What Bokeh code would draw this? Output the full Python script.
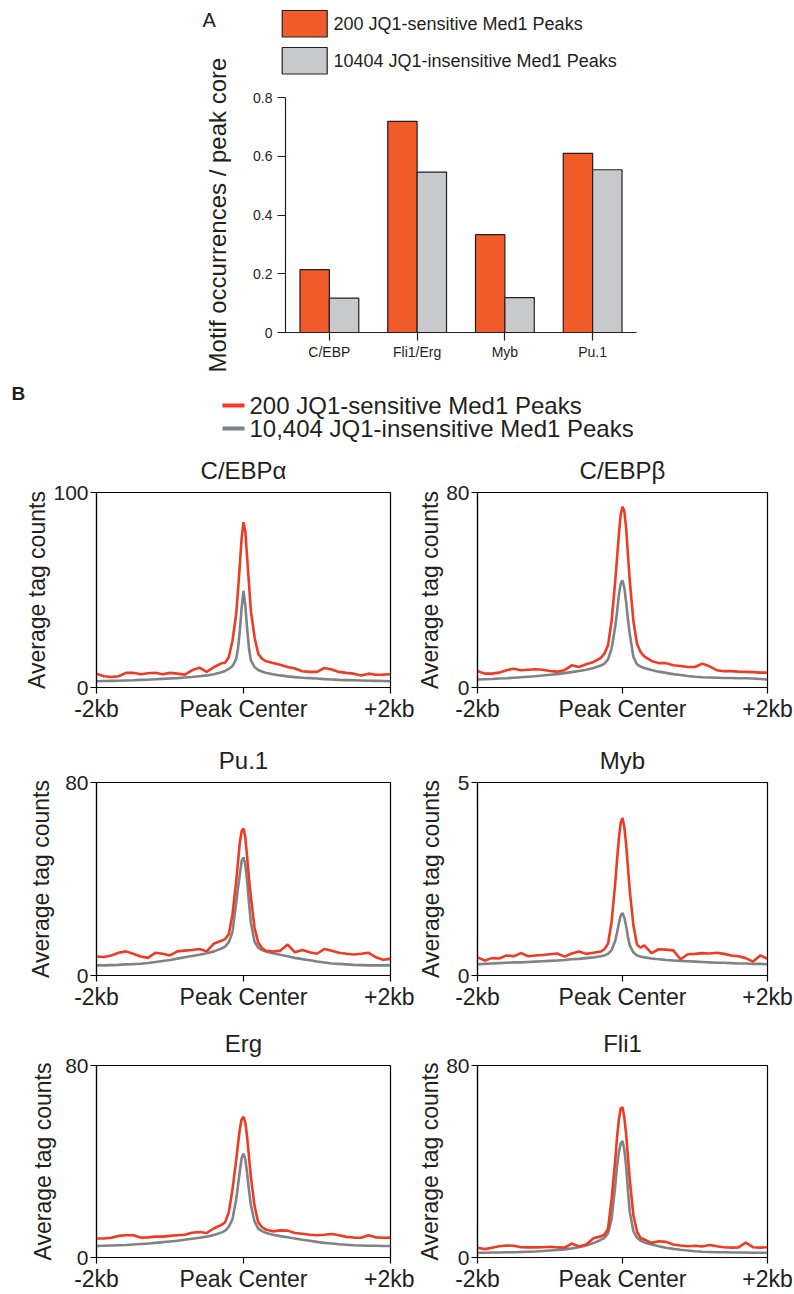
import math
from bokeh.plotting import figure
from bokeh.models import Range1d, FixedTicker, ColumnDataSource
from bokeh.layouts import column, row
from bokeh.embed import file_html
from bokeh.resources import INLINE
from bokeh.core.properties import value

FONT = "Liberation Sans"
ORANGE_BAR = "#F15A29"
GRAY_BAR = "#C8C9CD"
RED = "#EF3B23"
GRAY_LINE = "#808285"
INK = "#231F20"

# ---------------- Panel A data ----------------
motifs = ["C/EBP", "Fli1/Erg", "Myb", "Pu.1"]
sensitive_occ = [0.214, 0.719, 0.333, 0.610]
insensitive_occ = [0.117, 0.546, 0.119, 0.554]
bar_legend = ["200 JQ1-sensitive Med1 Peaks", "10404 JQ1-insensitive Med1 Peaks"]
a_ticks = [0, 0.2, 0.4, 0.6, 0.8]
a_ylabel = "Motif occurrences / peak core"

# ---------------- Panel B data ----------------
line_legend = ["200 JQ1-sensitive Med1 Peaks", "10,404 JQ1-insensitive Med1 Peaks"]
positions = [-2000, -1900, -1800, -1700, -1600, -1500, -1400, -1300, -1200, -1100,
             -1000, -900, -800, -700, -600, -500, -400, -300, -250, -200, -150,
             -100, -75, -50, -25, 0, 25, 50, 75, 100, 150, 200, 250, 300, 400, 500,
             600, 700, 800, 900, 1000, 1100, 1200, 1300, 1400, 1500, 1600, 1700,
             1800, 1900, 2000]
x_tick_labels = {-2000: "-2kb", 0: "Peak Center", 2000: "+2kb"}

cebpa_sens = [7.1, 5.8, 5.4, 5.8, 7.5, 7.6, 6.8, 7.3, 7.6, 6.8, 7.5, 7.1, 6.6, 8.8, 10.2, 8.0, 10.5, 12.4,
              12.7, 15.6, 24, 37.7, 49.6, 63, 76.7,
              84.8,
              80, 66.5, 53, 39.4, 25.8, 17.3, 14.8, 13.6,
              12.6, 11.7, 10.5, 9.7, 8.3, 8.0, 8.0, 10.0, 9.2, 8.0, 7.5, 7.1, 6.1, 7.1, 6.5, 6.6, 6.8]
cebpa_insens = [3.2, 3.3, 3.4, 3.5, 3.6, 3.7, 3.9, 4.0, 4.2, 4.4, 4.6, 4.8, 5.1, 5.4, 5.8, 6.2, 6.8, 7.8,
                8.5, 9.5, 11.0, 14.5, 20, 29, 41,
                49.5,
                42, 30, 20, 14, 10.5, 9.0, 8.2, 7.6,
                6.8, 6.2, 5.7, 5.3, 5.0, 4.8, 4.6, 4.3, 4.1, 3.9, 3.8, 3.7, 3.6, 3.5, 3.4, 3.3, 3.2]
cebpb_sens = [6.8, 5.7, 5.7, 6.1, 7.1, 7.7, 7.1, 7.3, 7.5, 7.3, 6.8, 6.5, 7.1, 9.1, 8.4, 9.5, 10.5, 12.1,
              13.9, 17.3, 27.4, 43.8, 53.3, 62.8, 70.9,
              74.2,
              72.3, 65.5, 54.6, 43.8, 27.4, 17.9, 14.5, 12.8,
              10.9, 10.0, 10.0, 9.1, 8.8, 8.4, 8.4, 9.8, 8.7, 7.1, 6.7, 6.7, 6.5, 6.4, 6.3, 6.1, 6.1]
cebpb_insens = [3.3, 3.4, 3.5, 3.7, 3.8, 4.0, 4.2, 4.4, 4.6, 4.9, 5.2, 5.5, 5.9, 6.3, 6.8, 7.3, 8.0, 9.0,
                9.8, 11.5, 16, 25, 31, 38, 42.5,
                44,
                41, 35, 28, 22, 12.5, 9.5, 8.6, 8.0,
                7.2, 6.5, 6.0, 5.5, 5.1, 4.7, 4.4, 4.2, 4.1, 4.0, 3.9, 3.9, 3.8, 3.8, 3.7, 3.5, 3.3]
pu1_sens = [7.9, 7.7, 8.3, 9.4, 10.0, 9.0, 7.9, 7.3, 9.4, 9.0, 8.3, 10.0, 10.3, 10.6, 11.0, 10.0, 13.3, 14.4,
            15.1, 17.1, 25.3, 38.9, 47, 55.2, 59.9,
            60.9,
            57.2, 49, 40.2, 32.7, 19.8, 13.7, 11.4, 10.3,
            9.9, 10.3, 12.8, 9.6, 10.6, 9.6, 9.0, 11.0, 10.3, 9.4, 9.0, 8.7, 9.0, 9.4, 7.6, 6.5, 6.9]
pu1_insens = [4.2, 4.2, 4.3, 4.4, 4.6, 4.7, 4.9, 5.2, 5.6, 6.0, 6.4, 7.0, 7.6, 8.1, 8.6, 9.2, 10.0, 11.2,
              12.0, 13.8, 18, 30, 36, 42, 47.5,
              49,
              46, 39, 30, 22, 14, 11.5, 10.6, 10.0,
              9.2, 8.6, 8.0, 7.3, 6.8, 6.3, 5.8, 5.4, 5.0, 4.8, 4.6, 4.4, 4.3, 4.2, 4.2, 4.2, 4.2]
myb_sens = [0.47, 0.39, 0.45, 0.44, 0.52, 0.50, 0.58, 0.50, 0.52, 0.53, 0.55, 0.57, 0.49, 0.57, 0.62, 0.56, 0.59, 0.62,
            0.68, 0.82, 1.4, 2.4, 3.0, 3.55, 3.95,
            4.08,
            3.85, 3.4, 2.8, 2.2, 1.3, 0.8, 0.72, 0.78,
            0.58, 0.68, 0.67, 0.65, 0.42, 0.55, 0.56, 0.58, 0.57, 0.59, 0.56, 0.52, 0.50, 0.45, 0.36, 0.52, 0.43]
myb_insens = [0.29, 0.30, 0.31, 0.32, 0.33, 0.34, 0.34, 0.35, 0.36, 0.37, 0.38, 0.39, 0.40, 0.42, 0.43, 0.45, 0.47, 0.50,
              0.52, 0.56, 0.66, 0.9, 1.12, 1.35, 1.55,
              1.62,
              1.5, 1.28, 1.0, 0.78, 0.6, 0.52, 0.49, 0.47,
              0.44, 0.42, 0.40, 0.39, 0.38, 0.37, 0.36, 0.35, 0.34, 0.33, 0.33, 0.32, 0.31, 0.31, 0.30, 0.30, 0.29]
erg_sens = [7.9, 7.9, 8.2, 9.0, 9.3, 9.3, 8.3, 8.4, 8.7, 8.7, 9.0, 9.3, 9.5, 10.3, 10.6, 10.2, 12.2, 13.6,
            14.7, 18.8, 28.3, 40.5, 47.3, 53.5, 57.6,
            58.6,
            56.2, 50, 41.9, 33.7, 21.5, 14.7, 12.7, 11.7,
            10.9, 11.3, 11.2, 10.2, 9.9, 9.5, 9.3, 9.5, 9.8, 9.3, 8.6, 8.3, 8.2, 9.3, 8.4, 8.2, 8.3]
erg_insens = [4.8, 4.9, 5.0, 5.1, 5.2, 5.4, 5.6, 5.8, 6.1, 6.4, 6.7, 7.0, 7.4, 7.8, 8.2, 8.7, 9.4, 10.4,
              11.2, 12.8, 16, 24, 30, 36, 41.5,
              43.3,
              41, 35, 28, 22, 15, 12, 11, 10.3,
              9.5, 8.9, 8.4, 7.9, 7.4, 7.0, 6.5, 6.1, 5.8, 5.5, 5.3, 5.1, 5.0, 4.9, 4.9, 4.8, 4.8]
fli1_sens = [4.1, 3.5, 4.1, 4.7, 5.0, 4.9, 4.3, 4.2, 4.2, 4.3, 4.5, 4.2, 4.1, 5.8, 4.6, 5.4, 8.0, 8.8,
             9.5, 11.9, 24.4, 40.7, 50.2, 57.6, 62.1,
             62.6,
             58.3, 51.5, 42, 32.5, 17.6, 10.8, 8.1, 7.5,
             6.1, 6.8, 6.5, 5.4, 5.0, 4.7, 4.9, 4.6, 5.2, 4.7, 4.3, 4.1, 4.2, 6.2, 4.3, 4.1, 4.3]
fli1_insens = [2.0, 2.0, 2.1, 2.1, 2.2, 2.2, 2.3, 2.4, 2.5, 2.7, 2.9, 3.1, 3.4, 3.8, 4.3, 5.0, 6.0, 7.3,
               8.2, 10, 16, 30, 38, 44, 47.5,
               48.5,
               45, 38, 28, 19, 11, 8.2, 7.0, 6.3,
               5.4, 4.7, 4.1, 3.6, 3.2, 2.9, 2.6, 2.4, 2.3, 2.2, 2.2, 2.1, 2.1, 2.1, 2.0, 2.0, 2.0]

panel_titles = ["C/EBP\u03b1", "C/EBP\u03b2", "Pu.1", "Myb", "Erg", "Fli1"]
panel_ymax = [100, 80, 80, 5, 80, 80]
panel_sens = [cebpa_sens, cebpb_sens, pu1_sens, myb_sens, erg_sens, fli1_sens]
panel_insens = [cebpa_insens, cebpb_insens, pu1_insens, myb_insens, erg_insens, fli1_insens]


def blank(width, height, x0, x1, y_top, y_bottom):
    """Axis-less figure whose data units are page pixels."""
    f = figure(width=width, height=height, x_range=Range1d(x0, x1), y_range=Range1d(y_bottom, y_top),
               min_border=0, x_axis_location=None, y_axis_location=None,
               output_backend="svg", toolbar_location=None, outline_line_color=None,
               frame_align=False)
    f.xgrid.visible = False
    f.ygrid.visible = False
    return f


# ---------------- Top: label column ----------------
pl = blank(250, 380, 0, 250, 0, 380)
pl.text(x=[202], y=[19], text=["A"], text_font=value(FONT), text_font_size="20px",
        text_baseline="middle", text_align="left", text_color=INK)
pl.text(x=[217], y=[214.5], text=[a_ylabel], angle=math.pi / 2, text_font=value(FONT),
        text_font_size="24px", text_baseline="middle", text_align="center", text_color=INK)

# ---------------- Top: legend A ----------------
ph = blank(544, 85, 250, 794, 0, 85)
ph.quad(left=[281.7, 281.7], right=[326.7, 326.7], top=[10, 47], bottom=[36.5, 73.5],
        fill_color=[ORANGE_BAR, GRAY_BAR], line_color=INK, line_width=1.2)
ph.text(x=[333, 333], y=[23.5, 60.5], text=bar_legend, text_font=value(FONT),
        text_font_size="18px", text_baseline="middle", text_align="left", text_color=INK)

# ---------------- Top: bar chart ----------------
BAR_W = 0.335
centers = [i + 0.5 for i in range(len(motifs))]
src = ColumnDataSource(dict(
    xs=[c - BAR_W / 2 for c in centers], xi=[c + BAR_W / 2 for c in centers],
    sens=sensitive_occ, insens=insensitive_occ))
pa = figure(width=544, height=295, x_range=Range1d(0, len(motifs)), y_range=Range1d(0, 0.8),
            min_border_left=35, min_border_right=158, min_border_top=12, min_border_bottom=48,
            output_backend="svg", toolbar_location=None, outline_line_color=None,
            frame_align=False)
pa.vbar(x="xs", top="sens", width=BAR_W, source=src,
        fill_color=ORANGE_BAR, line_color=INK, line_width=1.2)
pa.vbar(x="xi", top="insens", width=BAR_W, source=src,
        fill_color=GRAY_BAR, line_color=INK, line_width=1.2)
pa.xgrid.visible = False
pa.ygrid.visible = False
pa.xaxis.ticker = FixedTicker(ticks=centers)
pa.xaxis.major_label_overrides = {c: m for c, m in zip(centers, motifs)}
pa.yaxis.ticker = FixedTicker(ticks=a_ticks)
pa.yaxis.major_label_overrides = {0: "0"}
for ax in (pa.xaxis[0], pa.yaxis[0]):
    ax.major_tick_out = 8
    ax.major_tick_in = 0
    ax.minor_tick_line_color = None
    ax.major_label_text_font_size = "14px"
    ax.major_label_text_font = FONT
    ax.major_label_text_color = INK
    ax.axis_line_color = INK
    ax.major_tick_line_color = INK
    ax.axis_line_width = 1.2
    ax.major_tick_line_width = 1.2
pa.xaxis.major_label_standoff = 3
pa.yaxis.major_label_standoff = 5

top = row(pl, column(ph, pa, spacing=0), spacing=0)

# ---------------- Header B ----------------
pb = blank(794, 65, 0, 794, 380, 445)
pb.text(x=[11], y=[393], text=["B"], text_font=value(FONT), text_font_style="bold",
        text_font_size="19px", text_baseline="middle", text_color=INK)
pb.segment(x0=[222, 222], y0=[405, 428], x1=[244, 244], y1=[405, 428],
           line_color=[RED, GRAY_LINE], line_width=4)
pb.text(x=[249, 249], y=[405, 428], text=line_legend, text_font=value(FONT),
        text_font_size="24px", text_baseline="middle", text_color=INK)

# ---------------- Profile panels ----------------
row_specs = [(290, 46, 48), (283, 44, 43), (276, 45, 35)]
label_standoffs = [0, 0, 8, 11, 6, 0]


def profile(i, rowi, left):
    h, bt, bb = row_specs[rowi]
    w = 414 if left else 380
    bl = 96 if left else 58
    br = 24 if left else 27
    p = figure(width=w, height=h, x_range=Range1d(-2000, 2000), y_range=Range1d(0, panel_ymax[i]),
               min_border_left=bl, min_border_right=br, min_border_top=bt, min_border_bottom=bb,
               output_backend="svg", toolbar_location=None, frame_align=False,
               outline_line_color="black", outline_line_width=1.2, outline_line_alpha=1.0)
    p.xgrid.visible = False
    p.ygrid.visible = False
    p.line(positions, panel_insens[i], line_color=GRAY_LINE, line_width=2.6)
    p.line(positions, panel_sens[i], line_color=RED, line_width=2.6)
    p.title.text = panel_titles[i]
    p.title.align = "center"
    p.title.text_font = FONT
    p.title.text_font_size = "24px"
    p.title.text_font_style = "normal"
    p.title.text_color = INK
    p.title.standoff = 18
    p.xaxis.ticker = FixedTicker(ticks=[-2000, 0, 2000])
    p.xaxis.major_label_overrides = x_tick_labels
    p.yaxis.ticker = FixedTicker(ticks=[0, panel_ymax[i]])
    p.yaxis.axis_label = "Average tag counts"
    p.yaxis.axis_label_standoff = label_standoffs[i]
    p.yaxis.axis_label_text_font_size = "23px"
    p.yaxis.axis_label_text_font_style = "normal"
    for ax in (p.xaxis[0], p.yaxis[0]):
        ax.major_tick_out = 6
        ax.major_tick_in = 0
        ax.minor_tick_line_color = None
        ax.major_label_standoff = 2
        ax.major_label_text_font = FONT
        ax.axis_label_text_font = FONT
        ax.major_label_text_color = INK
        ax.axis_label_text_color = INK
        ax.axis_line_color = "black"
        ax.major_tick_line_color = "black"
        ax.axis_line_width = 1.2
        ax.major_tick_line_width = 1.2
    p.xaxis.major_label_text_font_size = "23px"
    p.yaxis.major_label_text_font_size = "21px"
    return p


rows = []
for r in range(3):
    rows.append(row(profile(2 * r, r, True), profile(2 * r + 1, r, False), spacing=0))

layout = column(top, pb, *rows, spacing=0)
open("out.html", "w").write(file_html(layout, INLINE))
